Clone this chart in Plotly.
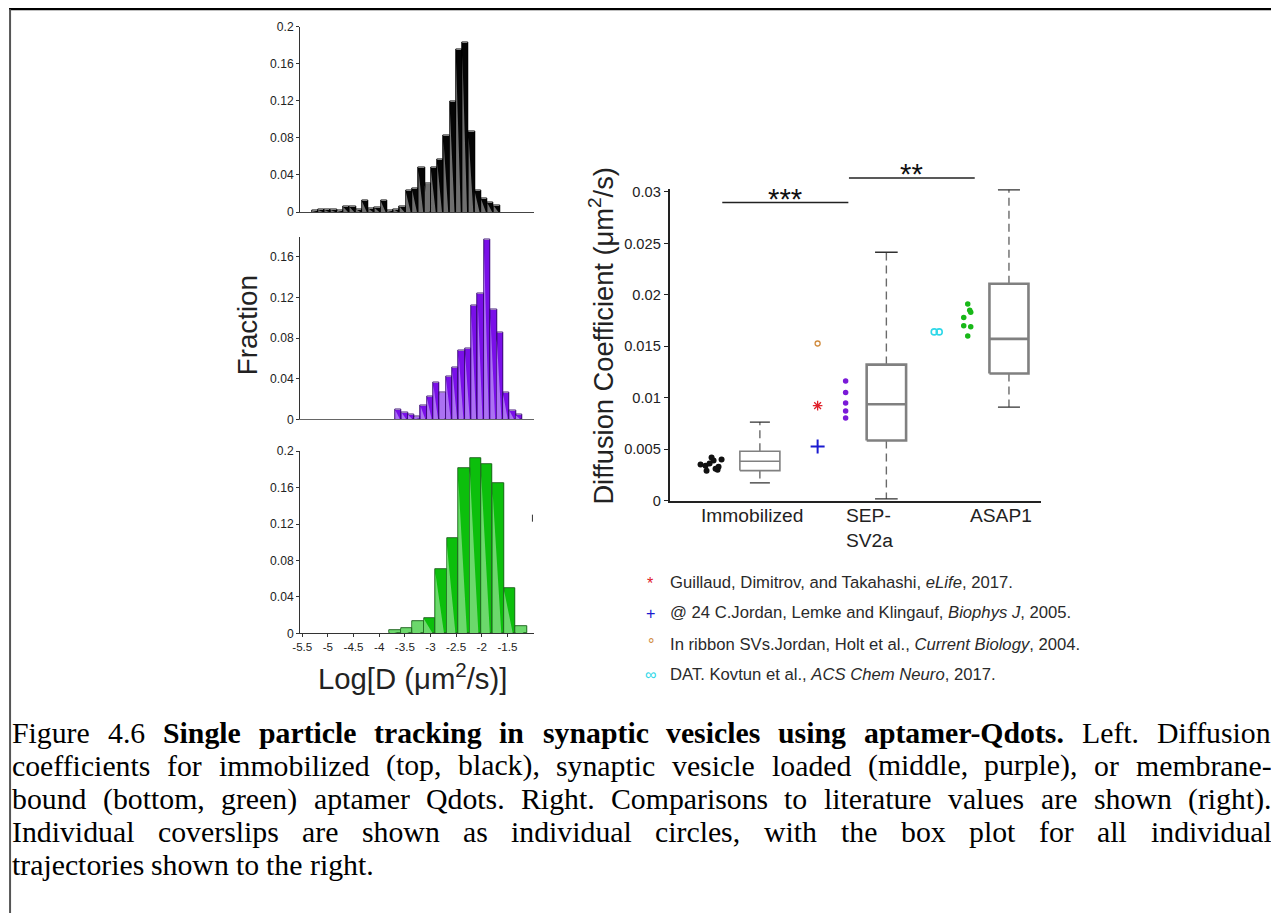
import numpy as np
import plotly.graph_objects as go

# layout is designed in 1278x919 page pixels and mapped onto the plot div,
# which sits inside the page body's 8px margin
PAGE_W, PAGE_H = 1278, 919
VIEW_W, VIEW_H = 1287, 937
OFF = 8
SX, SY = VIEW_W / PAGE_W, VIEW_H / PAGE_H
W, H = VIEW_W - 2 * OFF, VIEW_H - 2 * OFF
FS = 1.01

# ---------------- histogram data (fraction per log10 D bin) ----------------
top_start, top_width = -5.311, 0.1222
top_frac = [0.0014, 0.0025, 0.0025, 0.0025, 0.0014, 0.0058, 0.0058, 0.0032, 0.0123, 0.0040,
            0.0047, 0.0123, 0.0014, 0.0032, 0.0061, 0.0227, 0.0252, 0.0479, 0.0310, 0.0479,
            0.0566, 0.0822, 0.1193, 0.1748, 0.1823, 0.0868, 0.0227, 0.0148, 0.0104, 0.0072]
top_light = [18]

mid_start, mid_width = -3.685, 0.1236
mid_frac = [0.0096, 0.0069, 0.0049, 0.0026, 0.0135, 0.0221, 0.0360, 0.0267, 0.0425, 0.0514,
            0.0673, 0.0696, 0.1124, 0.1237, 0.1774, 0.1078, 0.0854, 0.0267, 0.0092, 0.0043]
mid_light = [3, 7]

bot_start, bot_width = -3.797, 0.2234
bot_frac = [0.0033, 0.0055, 0.0130, 0.0170, 0.0708, 0.1046, 0.1810, 0.1920, 0.1860, 0.1650,
            0.0500, 0.0080]
bot_light = [0, 1, 2, 11]

hist_xticks = [-5.5, -5, -4.5, -4, -3.5, -3, -2.5, -2, -1.5]
hist_xticklabels = ["-5.5", "-5", "-4.5", "-4", "-3.5", "-3", "-2.5", "-2", "-1.5"]

# ---------------- box plot panel data ----------------
box_x = [0.903, 2.167, 3.392]
box_half = [0.20, 0.197, 0.195]
cap_half = [0.10, 0.113, 0.11]
box_q1 = [0.00292, 0.00585, 0.01235]
box_median = [0.00383, 0.00936, 0.01572]
box_q3 = [0.00480, 0.01322, 0.02108]
box_low = [0.00172, 0.00016, 0.00909]
box_high = [0.00763, 0.02414, 0.03021]

immob_x = [0.31, 0.36, 0.40, 0.42, 0.44, 0.48, 0.49, 0.52, 0.37, 0.46]
immob_y = [0.0035, 0.0034, 0.0036, 0.0042, 0.0039, 0.0030, 0.0033, 0.0040, 0.0029, 0.0031]
sep_x = [1.76, 1.76, 1.76, 1.76, 1.76]
sep_y = [0.01163, 0.0105, 0.00948, 0.0087, 0.00802]
asap_x = [2.98, 3.00, 3.01, 2.94, 2.94, 3.01, 2.98]
asap_y = [0.0191, 0.0185, 0.0183, 0.0178, 0.0170, 0.0169, 0.0160]

lit_x = 1.48
lit_guillaud = 0.00923
lit_jordan_lemke = 0.00526
lit_jordan_holt = 0.01527
kovtun_x = [2.645, 2.695]
lit_kovtun = 0.0164

sig_labels = ["***", "**"]
sig_x0 = [0.527, 1.793]
sig_x1 = [1.787, 3.05]
sig_line_y = [202.7, 178.3]
sig_text_y = [198.5, 173.5]

legend_texts = [
    "Guillaud, Dimitrov, and Takahashi, <i>eLife</i>, 2017.",
    "@ 24 C.Jordan, Lemke and Klingauf, <i>Biophys J</i>, 2005.",
    "In ribbon SVs.Jordan, Holt et al., <i>Current Biology</i>, 2004.",
    "DAT. Kovtun et al., <i>ACS Chem Neuro</i>, 2017.",
]
legend_symbols = ["*", "+", "°", "∞"]
legend_colors = ["#e0202a", "#1a1ad0", "#d08a3c", "#30d8e8"]

# caption: (text, bold) runs per line; the last line is not justified
caption_lines = [
    [("Figure 4.6", False),
     ("Single particle tracking in synaptic vesicles using aptamer-Qdots.", True),
     ("Left. Diffusion", False)],
    [("coefficients for immobilized (top, black), synaptic vesicle loaded (middle, purple), or membrane-", False)],
    [("bound (bottom, green) aptamer Qdots. Right. Comparisons to literature values are shown (right).", False)],
    [("Individual coverslips are shown as individual circles, with the box plot for all individual", False)],
    [("trajectories shown to the right.", False)],
]

# Times / Liberation Serif advance widths (1/1000 em)
_REG = dict(zip("ABCDEFGHIJKLMNOPQRSTUVWXYZ",
                [722, 667, 667, 722, 611, 556, 722, 722, 333, 389, 722, 611, 889, 722, 722, 556,
                 722, 667, 556, 611, 722, 722, 944, 722, 722, 611]))
_REG.update(zip("abcdefghijklmnopqrstuvwxyz",
                [444, 500, 444, 500, 444, 333, 500, 500, 278, 278, 500, 278, 778, 500, 500, 500,
                 500, 333, 389, 278, 500, 500, 722, 500, 500, 444]))
_REG.update({" ": 250, "(": 333, ")": 333, ",": 250, "-": 333, ".": 250})
_BOLD = dict(_REG)
_BOLD.update(zip("abcdefghijklmnopqrstuvwxyz",
                 [500, 556, 444, 556, 444, 333, 500, 556, 278, 333, 556, 278, 833, 556, 500, 556,
                  556, 444, 389, 333, 556, 500, 722, 500, 500, 444]))
_BOLD.update({"Q": 778, "S": 556})


def word_width(word, bold, size):
    table = _BOLD if bold else _REG
    return sum(table.get(ch, 500) for ch in word) * size / 1000.0


def px(x):
    return (x * SX - OFF) / W


def py(y):
    return 1 - (y * SY - OFF) / H


fig = go.Figure()

# ---------------- histograms ----------------
panels = [
    dict(frac=top_frac, start=top_start, width=top_width, light=top_light, xa="x", ya="y",
         dark="#050505", pale="#6f6f6f", edge="#000000"),
    dict(frac=mid_frac, start=mid_start, width=mid_width, light=mid_light, xa="x2", ya="y2",
         dark="#7a0fe8", pale="#ab72f2", edge="#3b0a78"),
    dict(frac=bot_frac, start=bot_start, width=bot_width, light=bot_light, xa="x3", ya="y3",
         dark="#0cbf0c", pale="#6cd86c", edge="#226b22"),
]

for p in panels:
    n = len(p["frac"])
    centers = p["start"] + p["width"] * (np.arange(n) + 0.5)
    colors = [p["pale"] if i in p["light"] else p["dark"] for i in range(n)]
    fig.add_trace(go.Bar(x=centers, y=p["frac"], width=p["width"], marker_color=colors,
                         marker_line_width=0, xaxis=p["xa"], yaxis=p["ya"],
                         showlegend=False, hoverinfo="skip"))
    # pale shading wedge inside each bar
    tx, ty = [], []
    for c, h in zip(centers, p["frac"]):
        left = c - p["width"] / 2
        tx += [left, left, left + 0.75 * p["width"], left, None]
        ty += [0, 0.93 * h, 0, 0, None]
    fig.add_trace(go.Scatter(x=tx, y=ty, fill="toself", fillcolor=p["pale"], mode="none",
                             xaxis=p["xa"], yaxis=p["ya"], showlegend=False, hoverinfo="skip"))
    fig.add_trace(go.Bar(x=centers, y=p["frac"], width=p["width"],
                         marker_color="rgba(0,0,0,0)", marker_line_color=p["edge"],
                         marker_line_width=1, xaxis=p["xa"], yaxis=p["ya"],
                         showlegend=False, hoverinfo="skip"))

# ---------------- box plot panel ----------------
for i in range(len(box_x)):
    xc, hw, cw = box_x[i], box_half[i], cap_half[i]
    lw = 1.6 if i == 0 else 2.6
    fig.add_trace(go.Scatter(
        x=[xc, xc, None, xc, xc],
        y=[box_q3[i], box_high[i], None, box_q1[i], box_low[i]],
        mode="lines", line=dict(color="#6a6a6a", width=1.4, dash="8px,5px"),
        xaxis="x4", yaxis="y4", showlegend=False, hoverinfo="skip"))
    fig.add_trace(go.Scatter(
        x=[xc - hw, xc + hw, xc + hw, xc - hw, xc - hw, None, xc - hw, xc + hw],
        y=[box_q1[i], box_q1[i], box_q3[i], box_q3[i], box_q1[i], None, box_median[i], box_median[i]],
        mode="lines", line=dict(color="#808080", width=lw), xaxis="x4", yaxis="y4",
        showlegend=False, hoverinfo="skip"))
    fig.add_trace(go.Scatter(
        x=[xc - cw, xc + cw, None, xc - cw, xc + cw],
        y=[box_high[i], box_high[i], None, box_low[i], box_low[i]],
        mode="lines", line=dict(color="#303030", width=1.3), xaxis="x4", yaxis="y4",
        showlegend=False, hoverinfo="skip"))

fig.add_trace(go.Scatter(x=immob_x, y=immob_y, mode="markers",
                         marker=dict(color="#111111", size=6), xaxis="x4", yaxis="y4",
                         showlegend=False, hoverinfo="skip"))
fig.add_trace(go.Scatter(x=sep_x, y=sep_y, mode="markers",
                         marker=dict(color="#7a1ad8", size=5.5), xaxis="x4", yaxis="y4",
                         showlegend=False, hoverinfo="skip"))
fig.add_trace(go.Scatter(x=asap_x, y=asap_y, mode="markers",
                         marker=dict(color="#18b818", size=5.5), xaxis="x4", yaxis="y4",
                         showlegend=False, hoverinfo="skip"))

fig.add_trace(go.Scatter(x=[lit_x], y=[lit_guillaud], mode="markers",
                         marker=dict(symbol="asterisk-open", color="#e0202a", size=8,
                                     line=dict(color="#e0202a", width=1.3)),
                         xaxis="x4", yaxis="y4", showlegend=False, hoverinfo="skip"))
fig.add_trace(go.Scatter(x=[lit_x], y=[lit_jordan_lemke], mode="markers",
                         marker=dict(symbol="cross-thin-open", color="#1a1ad0", size=10,
                                     line=dict(color="#1a1ad0", width=2)),
                         xaxis="x4", yaxis="y4", showlegend=False, hoverinfo="skip"))
fig.add_trace(go.Scatter(x=[lit_x], y=[lit_jordan_holt], mode="markers",
                         marker=dict(symbol="circle-open", color="#d08a3c", size=5,
                                     line=dict(color="#d08a3c", width=1.3)),
                         xaxis="x4", yaxis="y4", showlegend=False, hoverinfo="skip"))
fig.add_trace(go.Scatter(x=kovtun_x, y=[lit_kovtun, lit_kovtun], mode="markers",
                         marker=dict(symbol="circle-open", color="#30d8e8", size=6,
                                     line=dict(color="#30d8e8", width=1.6)),
                         xaxis="x4", yaxis="y4", showlegend=False, hoverinfo="skip"))

# significance brackets
for lab, a, b, ly, ty in zip(sig_labels, sig_x0, sig_x1, sig_line_y, sig_text_y):
    fig.add_shape(type="line", xref="x4", yref="paper", x0=a, x1=b, y0=py(ly), y1=py(ly),
                  line=dict(color="#222222", width=1.4))
    fig.add_annotation(x=(a + b) / 2, y=py(ty), xref="x4", yref="paper", text=lab,
                       showarrow=False, xanchor="center", yanchor="middle",
                       font=dict(size=29 * FS, color="#111111", family="Arial"))

axis_font = dict(family="Arial", color="#222222")

hist_x_range = [-5.539, -0.973]
xdom = [px(300), px(534)]
common_x = dict(range=hist_x_range, domain=xdom, showline=True, linewidth=1.3,
                zeroline=False, showgrid=False, fixedrange=True)
common_y = dict(showline=True, linewidth=1.3, linecolor="#333333", zeroline=False,
                showgrid=False, ticks="outside", ticklen=3, tickcolor="#333333",
                tickfont=dict(size=12 * FS, **axis_font), fixedrange=True)

fig.update_layout(
    width=W, height=H, margin=dict(l=0, r=0, t=0, b=0),
    paper_bgcolor="white", plot_bgcolor="rgba(0,0,0,0)", barmode="overlay", bargap=0,
    xaxis=dict(anchor="y", showticklabels=False, ticks="", linecolor="#444444", **common_x),
    yaxis=dict(anchor="x", domain=[py(212.3), py(27.3)], range=[0, 0.2],
               tickvals=[0, 0.04, 0.08, 0.12, 0.16, 0.2],
               ticktext=["0", "0.04", "0.08", "0.12", "0.16", "0.2"], **common_y),
    xaxis2=dict(anchor="y2", showticklabels=False, ticks="", linecolor="#666666", **common_x),
    yaxis2=dict(anchor="x2", domain=[py(419), py(236.7)], range=[0, 0.18],
                tickvals=[0, 0.04, 0.08, 0.12, 0.16],
                ticktext=["0", "0.04", "0.08", "0.12", "0.16"], **common_y),
    xaxis3=dict(anchor="y3", tickvals=hist_xticks, ticktext=hist_xticklabels, ticks="outside",
                ticklen=3, tickcolor="#333333", linecolor="#333333",
                tickfont=dict(size=11.5 * FS, **axis_font), **common_x),
    yaxis3=dict(anchor="x3", domain=[py(632.3), py(450.7)], range=[0, 0.2],
                tickvals=[0, 0.04, 0.08, 0.12, 0.16, 0.2],
                ticktext=["0", "0.04", "0.08", "0.12", "0.16", "0.2"], **common_y),
    xaxis4=dict(anchor="y4", domain=[px(669), px(1040)], range=[0, 3.71], showline=True,
                linewidth=1.6, linecolor="#222222", showticklabels=False, ticks="",
                zeroline=False, showgrid=False, fixedrange=True),
    yaxis4=dict(anchor="x4", domain=[py(500), py(189.2)], range=[0, 0.0303], showline=True,
                linewidth=1.6, linecolor="#222222", zeroline=False, showgrid=False,
                ticks="outside", ticklen=4, tickcolor="#222222",
                tickvals=[0, 0.005, 0.01, 0.015, 0.02, 0.025, 0.03],
                ticktext=["0", "0.005", "0.01", "0.015", "0.02", "0.025", "0.03"],
                tickfont=dict(size=14.5 * FS, **axis_font), fixedrange=True),
)


def note(x, y, text, size, color="#222222", family="Arial", xanchor="center", angle=0,
         align="center"):
    fig.add_annotation(x=px(x), y=py(y), xref="paper", yref="paper", text=text,
                       showarrow=False, xanchor=xanchor, yanchor="middle", textangle=angle,
                       align=align, font=dict(size=size * FS, color=color, family=family))


# category labels under the box plot
note(751, 515, "Immobilized", 19)
note(843, 527, "SEP-<br>SV2a", 19, xanchor="left", align="left")
note(1000, 515, "ASAP1", 19)

# axis titles
note(247, 325, "Fraction", 27.5, angle=-90)
note(412, 675, "Log[D (μm<sup>2</sup>/s)]", 29)
note(601, 335, "Diffusion Coefficient (μm<sup>2</sup>/s)", 27, angle=-90)

# literature legend
leg_y = [582, 612, 643, 673]
for sym, col, txt, yy in zip(legend_symbols, legend_colors, legend_texts, leg_y):
    note(650, yy, sym, 16, color=col)
    note(667, yy, txt, 16.5, color="#2a2a2a", xanchor="left")

# justified caption, placed word by word
cap_size = 29.5
cap_left, cap_right = 10, 1268
cap_y = [731, 764, 797, 830, 863]
for li, (runs, yy) in enumerate(zip(caption_lines, cap_y)):
    words = [(w, b) for txt, b in runs for w in txt.split(" ")]
    widths = [word_width(w, b, cap_size * FS) / SX for w, b in words]
    space = 0.25 * cap_size
    if li < len(caption_lines) - 1 and len(words) > 1:
        space = (cap_right - cap_left - sum(widths)) / (len(words) - 1)
    xpos = cap_left
    for (w, b), wd in zip(words, widths):
        note(xpos, yy, "<b>%s</b>" % w if b else w, cap_size, color="#000000",
             family="Liberation Serif", xanchor="left")
        xpos += wd + space

# page frame and a stray tick mark beside the lower histogram
fig.add_shape(type="line", xref="paper", yref="paper", x0=px(9), x1=1, y0=py(10),
              y1=py(10), line=dict(color="#000000", width=2.2))
fig.add_shape(type="line", xref="paper", yref="paper", x0=px(10), x1=px(10), y0=py(10),
              y1=0, line=dict(color="#555555", width=2))
fig.add_shape(type="line", xref="paper", yref="paper", x0=px(532), x1=px(532), y0=py(514),
              y1=py(521), line=dict(color="#333333", width=1))

fig.write_html("out.html")
